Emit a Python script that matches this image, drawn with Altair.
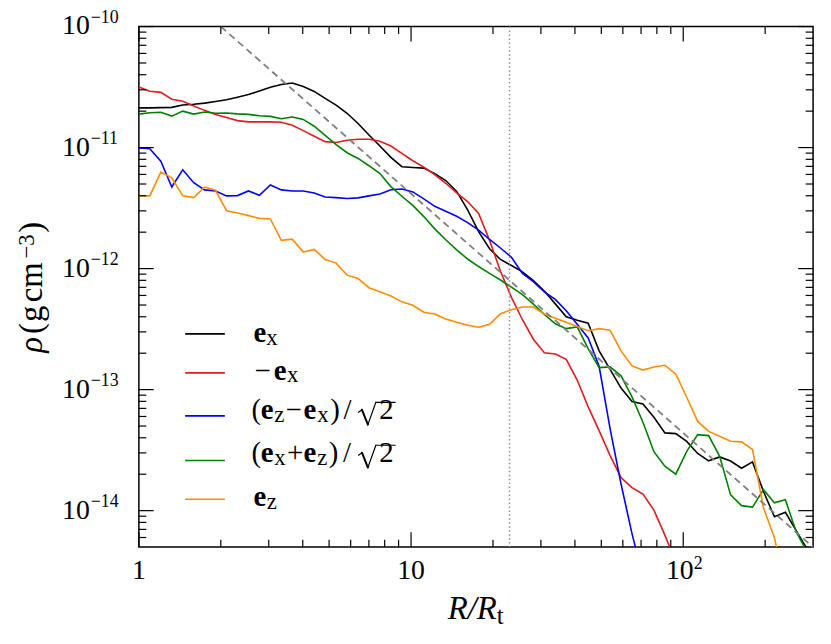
import altair as alt
import pandas as pd

# ---------------- data ----------------
R = [1.000, 1.097, 1.204, 1.321, 1.449, 1.590, 1.744, 1.913, 2.099, 2.303,
     2.527, 2.773, 3.042, 3.337, 3.661, 4.017, 4.407, 4.835, 5.305, 5.820,
     6.386, 7.006, 7.686, 8.433, 9.252, 10.15, 11.14, 12.22, 13.41, 14.71,
     16.14, 17.71, 19.43, 21.31, 23.38, 25.66, 28.15, 30.88, 33.88, 37.17,
     40.78, 44.75, 49.09, 53.86, 59.09, 64.83, 71.13, 78.03, 85.62, 93.91,
     103.0, 113.0, 124.0, 136.1, 149.3, 163.8, 179.7, 197.2, 216.3, 237.3,
     260.4, 285.7]

RHO_EX = [2.13e-11, 2.13e-11, 2.14e-11, 2.15e-11, 2.25e-11, 2.28e-11, 2.33e-11, 2.40e-11, 2.48e-11, 2.61e-11,
          2.74e-11, 2.94e-11, 3.15e-11, 3.32e-11, 3.42e-11, 3.20e-11, 2.91e-11, 2.55e-11, 2.24e-11, 1.92e-11,
          1.58e-11, 1.27e-11, 1.03e-11, 8.31e-12, 6.95e-12, 6.85e-12, 6.76e-12, 6.09e-12, 5.34e-12, 4.34e-12,
          3.06e-12, 2.02e-12, 1.46e-12, 1.19e-12, 1.06e-12, 9.40e-13, 7.96e-13, 6.53e-13, 5.11e-13, 4.00e-13,
          3.75e-13, 3.54e-13, 2.09e-13, 1.47e-13, 1.03e-13, 7.99e-14, 7.62e-14, 5.91e-14, 4.39e-14, 4.33e-14,
          3.73e-14, 2.97e-14, 2.58e-14, 2.78e-14, 2.57e-14, 2.24e-14, 2.53e-14, 1.44e-14, 8.90e-15, 9.69e-15,
          6.80e-15, 4.78e-15]

RHO_MEX = [3.17e-11, 2.92e-11, 2.86e-11, 2.51e-11, 2.41e-11, 2.21e-11, 2.03e-11, 1.88e-11, 1.77e-11, 1.67e-11,
           1.63e-11, 1.63e-11, 1.63e-11, 1.62e-11, 1.53e-11, 1.38e-11, 1.24e-11, 1.12e-11, 1.10e-11, 1.15e-11,
           1.17e-11, 1.17e-11, 1.13e-11, 1.03e-11, 8.97e-12, 7.78e-12, 6.89e-12, 5.97e-12, 5.07e-12, 4.22e-12,
           3.58e-12, 2.86e-12, 1.71e-12, 9.52e-13, 5.79e-13, 3.78e-13, 2.61e-13, 2.02e-13, 1.97e-13, 1.78e-13,
           1.20e-13, 7.20e-14, 4.58e-14, 2.85e-14, 1.88e-14, 1.55e-14, 1.37e-14, 1.01e-14, 6.28e-15, 3.74e-15]

RHO_ZMX = [9.91e-12, 9.79e-12, 7.71e-12, 4.72e-12, 6.55e-12, 5.12e-12, 4.47e-12, 4.38e-12, 3.99e-12, 4.01e-12,
           4.38e-12, 4.04e-12, 4.91e-12, 4.47e-12, 4.38e-12, 4.38e-12, 4.22e-12, 3.91e-12, 3.86e-12, 3.79e-12,
           3.84e-12, 3.99e-12, 4.14e-12, 4.49e-12, 4.55e-12, 4.30e-12, 3.77e-12, 3.27e-12, 2.98e-12, 2.71e-12,
           2.40e-12, 2.08e-12, 1.74e-12, 1.48e-12, 1.24e-12, 9.12e-13, 7.81e-13, 6.41e-13, 5.57e-13, 4.48e-13,
           3.47e-13, 2.67e-13, 1.56e-13, 4.76e-14, 1.66e-14, 6.46e-15, 2.82e-15]

RHO_XPZ = [1.89e-11, 1.94e-11, 1.96e-11, 1.82e-11, 2.00e-11, 1.89e-11, 1.97e-11, 1.92e-11, 1.93e-11, 1.90e-11,
           1.88e-11, 1.83e-11, 1.81e-11, 1.73e-11, 1.79e-11, 1.71e-11, 1.50e-11, 1.26e-11, 1.06e-11, 9.07e-12,
           8.13e-12, 7.08e-12, 6.10e-12, 4.76e-12, 3.96e-12, 3.33e-12, 2.69e-12, 2.13e-12, 1.73e-12, 1.43e-12,
           1.20e-12, 1.04e-12, 9.14e-13, 8.05e-13, 7.03e-13, 6.09e-13, 5.08e-13, 4.19e-13, 3.50e-13, 3.19e-13,
           3.30e-13, 2.18e-13, 1.52e-13, 1.54e-13, 1.30e-13, 8.70e-14, 5.38e-14, 3.07e-14, 2.33e-14, 2.00e-14,
           3.09e-14, 4.25e-14, 4.17e-14, 2.81e-14, 1.35e-14, 1.10e-14, 1.07e-14, 1.49e-14, 1.16e-14, 1.23e-14,
           6.64e-15, 4.52e-15]

RHO_EZ = [3.99e-12, 3.99e-12, 6.27e-12, 5.63e-12, 3.99e-12, 3.86e-12, 4.72e-12, 4.44e-12, 3.01e-12, 2.88e-12,
          2.74e-12, 2.60e-12, 2.57e-12, 1.71e-12, 1.75e-12, 1.37e-12, 1.44e-12, 1.19e-12, 1.11e-12, 8.83e-13,
          8.30e-13, 6.95e-13, 6.45e-13, 5.94e-13, 5.31e-13, 4.97e-13, 4.36e-13, 4.22e-13, 3.83e-13, 3.60e-13,
          3.40e-13, 3.28e-13, 3.47e-13, 4.24e-13, 4.57e-13, 4.81e-13, 4.81e-13, 4.21e-13, 3.89e-13, 3.60e-13,
          3.33e-13, 3.07e-13, 3.19e-13, 3.09e-13, 2.09e-13, 1.57e-13, 1.45e-13, 1.54e-13, 1.59e-13, 1.34e-13,
          8.65e-14, 5.46e-14, 4.52e-14, 4.12e-14, 3.75e-14, 3.70e-14, 3.20e-14, 1.05e-14, 5.99e-15, 2.33e-15]

FIT_R = [2.0, 300.0]
FIT_RHO = [1.0e-10, 5.0e-15]
VLINE_R = [23.0]

X_MAJOR = [1, 10, 100]
X_MINOR = [2, 3, 4, 5, 6, 7, 8, 9, 20, 30, 40, 50, 60, 70, 80, 90, 200]
X_LABEL_BASE = ["1", "10", "10"]
X_LABEL_EXP = ["", "", "2"]
Y_MAJOR = [1e-10, 1e-11, 1e-12, 1e-13, 1e-14]
Y_MINOR = [6e-15, 7e-15, 8e-15, 9e-15] + [m * 10.0 ** e for e in (-14, -13, -12, -11) for m in range(2, 10)]
Y_LABEL_EXP = ["\u221210", "\u221211", "\u221212", "\u221213", "\u221214"]

SERIES = [
    ("ex", RHO_EX, "#000000"),
    ("mex", RHO_MEX, "#e41a1c"),
    ("zmx", RHO_ZMX, "#0000ff"),
    ("xpz", RHO_XPZ, "#008000"),
    ("ez", RHO_EZ, "#ff8c00"),
]

# ---------------- layout ----------------
W, H = 680, 525
SERIF = "Liberation Serif"
MAJ, MIN = 15, 7.5
xs = alt.Scale(type="log", domain=[1, 300], nice=False)
ys = alt.Scale(type="log", domain=[5e-15, 1e-10], nice=False)
DUMMY = pd.DataFrame({"k": [0]})

layers = []

# data curves
for name, vals, col in SERIES:
    df = pd.DataFrame({"R": R[:len(vals)], "rho": vals})
    layers.append(
        alt.Chart(df).mark_line(color=col, strokeWidth=1.6, clip=True).encode(
            x=alt.X("R:Q", scale=xs, axis=None),
            y=alt.Y("rho:Q", scale=ys, axis=None),
        )
    )

# power-law guide and vertical marker
layers.append(
    alt.Chart(pd.DataFrame({"R": FIT_R, "rho": FIT_RHO})).mark_line(
        color="#7f7f7f", strokeWidth=1.8, strokeDash=[7, 4.5], clip=True
    ).encode(x=alt.X("R:Q", scale=xs, axis=None), y=alt.Y("rho:Q", scale=ys, axis=None))
)
layers.append(
    alt.Chart(pd.DataFrame({"R": VLINE_R})).mark_rule(
        color="#909090", strokeWidth=1.5, strokeDash=[1.5, 2.5]
    ).encode(x=alt.X("R:Q", scale=xs, axis=None))
)


# inward ticks on all four sides
def xticks(vals, length):
    d = pd.DataFrame({"v": vals})
    out = []
    for y0, y1 in ((H, H - length), (0, length)):
        out.append(alt.Chart(d).mark_rule(color="black", strokeWidth=1.2).encode(
            x=alt.X("v:Q", scale=xs, axis=None), y=alt.value(y0), y2=alt.value(y1)))
    return out


def yticks(vals, length):
    d = pd.DataFrame({"v": vals})
    out = []
    for x0, x1 in ((0, length), (W, W - length)):
        out.append(alt.Chart(d).mark_rule(color="black", strokeWidth=1.2).encode(
            y=alt.Y("v:Q", scale=ys, axis=None), x=alt.value(x0), x2=alt.value(x1)))
    return out


layers += xticks(X_MAJOR, MAJ) + xticks(X_MINOR, MIN)
layers += yticks(Y_MAJOR, MAJ) + yticks(Y_MINOR, MIN)

# y tick labels: 10^n
ylab = pd.DataFrame({"v": Y_MAJOR, "base": ["10"] * len(Y_MAJOR), "exp": Y_LABEL_EXP})
layers.append(alt.Chart(ylab).mark_text(
    align="right", baseline="alphabetic", font=SERIF, fontSize=28, dy=8, color="black"
).encode(x=alt.value(-49.5), y=alt.Y("v:Q", scale=ys, axis=None), text="base:N"))
layers.append(alt.Chart(ylab).mark_text(
    align="left", baseline="alphabetic", font=SERIF, fontSize=18, dy=-3.5, color="black"
).encode(x=alt.value(-48.5), y=alt.Y("v:Q", scale=ys, axis=None), text="exp:N"))

# x tick labels
xlab = pd.DataFrame({"v": X_MAJOR, "base": X_LABEL_BASE, "exp": X_LABEL_EXP})
plain = alt.Chart(xlab).transform_filter(alt.datum.exp == "")
power = alt.Chart(xlab).transform_filter(alt.datum.exp != "")
layers.append(plain.mark_text(
    align="center", baseline="alphabetic", font=SERIF, fontSize=28, color="black"
).encode(x=alt.X("v:Q", scale=xs, axis=None), y=alt.value(H + 32), text="base:N"))
layers.append(power.mark_text(
    align="right", baseline="alphabetic", font=SERIF, fontSize=28, dx=10.5, color="black"
).encode(x=alt.X("v:Q", scale=xs, axis=None), y=alt.value(H + 32), text="base:N"))
layers.append(power.mark_text(
    align="left", baseline="alphabetic", font=SERIF, fontSize=18, dx=10.5, color="black"
).encode(x=alt.X("v:Q", scale=xs, axis=None), y=alt.value(H + 22), text="exp:N"))


def piece(txt, x, y, size, weight="normal", style="normal", angle=0):
    kw = dict(text=txt, align="left", baseline="alphabetic", font=SERIF, fontSize=size,
              fontWeight=weight, fontStyle=style, color="black")
    if angle:
        kw["angle"] = angle
    return alt.Chart(DUMMY).mark_text(**kw).encode(x=alt.value(x), y=alt.value(y))


def seg(x1, y1, x2, y2, width=1.2):
    return alt.Chart(DUMMY).mark_rule(color="black", strokeWidth=width, strokeCap="round").encode(
        x=alt.value(x1), y=alt.value(y1), x2=alt.value(x2), y2=alt.value(y2))


# axis titles
layers.append(piece("R/R", 311.5, 597.5, 33, style="italic"))
layers.append(piece("t", 361, 602.5, 25))
YB = -97.5
layers.append(piece("\u03c1", YB, 329, 33, style="italic", angle=270))
layers.append(piece("(", YB, 310, 33, angle=270))
layers.append(piece("g", YB, 298, 33, angle=270))
layers.append(piece("cm", YB, 278, 33, angle=270))
layers.append(piece("\u22123", -106, 234, 23, angle=270))
layers.append(piece(")", YB, 208, 33, angle=270))

# legend
MAINF, SUBF = 29, 23
LEG_Y = [310, 349.3, 392.7, 437.7, 476.7]
for (name, vals, col), ly in zip(SERIES, LEG_Y):
    layers.append(alt.Chart(DUMMY).mark_rule(color=col, strokeWidth=1.6).encode(
        x=alt.value(46.7), x2=alt.value(86.7), y=alt.value(ly)))

B = "bold"
legend_rows = [
    (317.7, [("e", 115.5, B, 0), ("x", 128.5, "s", 3)]),
    (356.0, [("\u2212", 116.5, "n", 0), ("e", 136, B, 0), ("x", 149.5, "s", 3)]),
    (396.0, [("(", 113.5, "n", 0), ("e", 123, B, 0), ("z", 136.5, "s", 3), ("\u2212", 148, "n", 0),
             ("e", 166, B, 0), ("x", 180, "s", 3), (")", 193, "n", 0), ("/", 206.5, "n", 0),
             ("2", 242.5, "n", 0)]),
    (439.3, [("(", 113.5, "n", 0), ("e", 123, B, 0), ("x", 136.5, "s", 3), ("+", 149.5, "n", 0),
             ("e", 166, B, 0), ("z", 180, "s", 3), (")", 191.5, "n", 0), ("/", 206, "n", 0),
             ("2", 242.5, "n", 0)]),
    (483.7, [("e", 115.5, B, 0), ("z", 129, "s", 3)]),
]
for base_y, parts in legend_rows:
    for txt, px, kind, dyy in parts:
        if kind == B:
            layers.append(piece(txt, px, base_y, MAINF, weight="bold"))
        elif kind == "s":
            layers.append(piece(txt, px, base_y + dyy, SUBF))
        else:
            layers.append(piece(txt, px, base_y, MAINF))

# radical signs for the sqrt(2) terms
for b in (396.0, 439.3):
    layers.append(seg(221.5, b - 7, 225, b - 9.5, 1.2))
    layers.append(seg(225, b - 9.5, 231, b + 5.5, 2.0))
    layers.append(seg(231, b + 5.5, 239, b - 17, 1.2))
    layers.append(seg(239, b - 17, 258.5, b - 17, 1.2))

chart = alt.layer(*layers).properties(
    width=W, height=H,
    autosize=alt.AutoSizeParams(type="none"),
    padding={"left": 132, "top": 16, "right": 10, "bottom": 90},
).configure_view(stroke="black", strokeWidth=1.5)

chart.save("out.html", embed_options={"renderer": "svg", "actions": False})
